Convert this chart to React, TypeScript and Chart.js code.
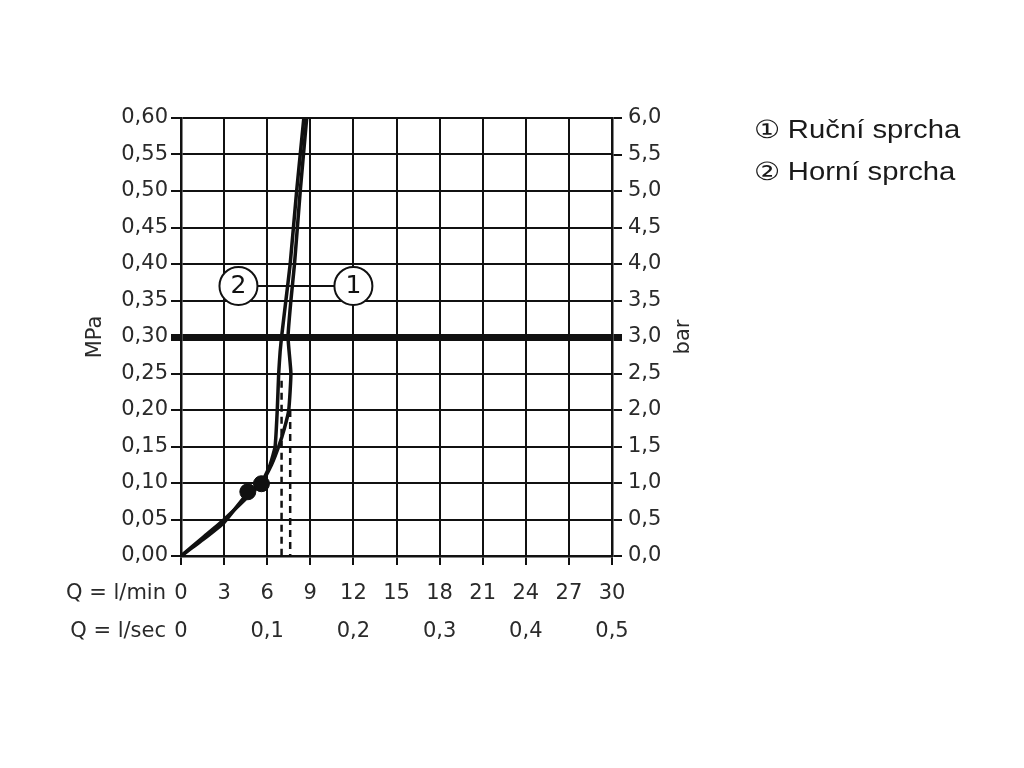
import React, { useEffect, useRef } from "react";
import { Chart, registerables } from "chart.js";

Chart.register(...registerables);

// Flow (l/min) tick values and the l/sec row labels
const flowTicks = [0, 3, 6, 9, 12, 15, 18, 21, 24, 27, 30];
const flowSecLabels = ["0", "", "0,1", "", "0,2", "", "0,3", "", "0,4", "", "0,5"];
// Pressure ticks
const mpaTicks = [0, 0.05, 0.1, 0.15, 0.2, 0.25, 0.3, 0.35, 0.4, 0.45, 0.5, 0.55, 0.6];
const barTicks = [0, 0.5, 1, 1.5, 2, 2.5, 3, 3.5, 4, 4.5, 5, 5.5, 6];
const referencePressure = 0.3;

// Curve 1 – Ruční sprcha (l/min vs MPa)
const curve1Flow = [0, 1.5, 3, 4.6, 5.6, 6.3, 6.8, 7.2, 7.5, 7.65, 7.45, 7.65, 7.9, 8.3, 8.75];
const curve1Pressure = [0, 0.025, 0.05, 0.08, 0.1, 0.125, 0.15, 0.175, 0.2, 0.25, 0.3, 0.35, 0.4, 0.5, 0.6];
// Curve 2 – Horní sprcha
const curve2Flow = [0, 1.5, 3, 4.6, 5.6, 6.2, 6.55, 6.7, 6.8, 6.9, 7.0, 7.3, 7.6, 8.05, 8.55];
const curve2Pressure = [0, 0.022, 0.046, 0.085, 0.1, 0.125, 0.15, 0.2, 0.25, 0.28, 0.3, 0.35, 0.4, 0.5, 0.6];

// Dashed drop lines at operating points
const dropFlow = [7.0, 7.6];
const dropTop = [0.24, 0.2];

// Filled dots
const dotFlow = [4.65, 5.6];
const dotPressure = [0.088, 0.099];

// Numbered callouts
const calloutFlow = [4.0, 12.0];
const calloutPressure = [0.37, 0.37];
const calloutLabels = ["2", "1"];

const legendItems = ["\u2460 Ručn\u00ed sprcha", "\u2461 Horn\u00ed sprcha"];

const INK = "#111";
const TEXT = "#2a2a2a";
const AXIS_FONT = "'DejaVu Sans', sans-serif";
const AXIS_SIZE = 21;

const fmt = (v: number, d: number) => v.toFixed(d).replace(".", ",");
const isRef = (v: number, ref: number) => Math.abs(v - ref) < 1e-6;

const overlayPlugin = {
  id: "overlayText",
  afterDatasetsDraw(chart: any) {
    const ctx = chart.ctx;
    const ys = chart.scales.y;
    const xs = chart.scales.x;
    ctx.save();
    ctx.fillStyle = INK;
    ctx.font = `25px ${AXIS_FONT}`;
    ctx.textAlign = "center";
    ctx.textBaseline = "middle";
    calloutLabels.forEach((lab, i) => {
      ctx.fillText(lab, xs.getPixelForValue(calloutFlow[i]), ys.getPixelForValue(calloutPressure[i]) + 1);
    });
    ctx.restore();
  },
  afterDraw(chart: any) {
    const ctx = chart.ctx;
    const area = chart.chartArea;
    const ys = chart.scales.y;
    ctx.save();
    ctx.fillStyle = TEXT;
    ctx.font = `${AXIS_SIZE}px ${AXIS_FONT}`;
    ctx.textAlign = "right";
    ctx.textBaseline = "middle";
    ctx.fillText("Q = l/min", 166, area.bottom + 38);
    ctx.fillText("Q = l/sec", 166, area.bottom + 76);
    const midY = ys.getPixelForValue(referencePressure);
    ctx.textAlign = "center";
    ctx.save();
    ctx.translate(96, midY);
    ctx.rotate(-Math.PI / 2);
    ctx.fillText("MPa", 0, 0);
    ctx.restore();
    ctx.save();
    ctx.translate(684, midY);
    ctx.rotate(-Math.PI / 2);
    ctx.fillText("bar", 0, 0);
    ctx.restore();
    ctx.restore();
  },
};

export default function App() {
  const ref = useRef<HTMLCanvasElement | null>(null);

  useEffect(() => {
    if (!ref.current) return;
    const pts = (xs: number[], ys: number[]) => xs.map((x, i) => ({ x, y: ys[i] }));
    const chart = new Chart(ref.current, {
      type: "line",
      data: {
        datasets: [
          {
            label: "callouts",
            data: pts(calloutFlow, calloutPressure),
            showLine: false,
            pointRadius: 19,
            pointHoverRadius: 19,
            pointBackgroundColor: "#fff",
            pointBorderColor: INK,
            pointBorderWidth: 2,
            order: 0,
          },
          {
            label: "dots",
            data: pts(dotFlow, dotPressure),
            showLine: false,
            pointRadius: 8,
            pointBackgroundColor: INK,
            pointBorderColor: INK,
            pointBorderWidth: 1,
            order: 1,
          },
          {
            label: "Ruční sprcha",
            data: pts(curve1Flow, curve1Pressure),
            borderColor: INK,
            borderWidth: 3.5,
            pointRadius: 0,
            tension: 0.15,
            fill: false,
            order: 2,
          },
          {
            label: "Horní sprcha",
            data: pts(curve2Flow, curve2Pressure),
            borderColor: INK,
            borderWidth: 3.5,
            pointRadius: 0,
            tension: 0.15,
            fill: false,
            order: 2,
          },
          ...dropFlow.map((f, i) => ({
            label: "drop" + i,
            data: [
              { x: f, y: dropTop[i] },
              { x: f, y: 0 },
            ],
            borderColor: INK,
            borderWidth: 2.5,
            borderDash: [7, 5],
            pointRadius: 0,
            order: 3,
          })),
          {
            label: "connector",
            data: pts(calloutFlow, calloutPressure),
            borderColor: INK,
            borderWidth: 2,
            pointRadius: 0,
            order: 4,
          },
        ],
      },
      options: {
        animation: false,
        responsive: false,
        devicePixelRatio: 1,
        layout: { padding: { left: 0, right: 332, top: 118, bottom: 112 } },
        plugins: { legend: { display: false }, tooltip: { enabled: false } },
        scales: {
          x: {
            type: "linear",
            position: "bottom",
            min: 0,
            max: 30,
            afterBuildTicks: (s: any) => {
              s.ticks = flowTicks.map((v) => ({ value: v }));
            },
            afterFit: (s: any) => {
              s.height = 100;
            },
            ticks: {
              autoSkip: false,
              maxRotation: 0,
              color: TEXT,
              padding: 10,
              font: { family: AXIS_FONT, size: AXIS_SIZE, lineHeight: 1.8 },
              callback: (v: any) => {
                const i = flowTicks.indexOf(Number(v));
                return [String(v), flowSecLabels[i] ?? ""];
              },
            },
            grid: { color: INK, lineWidth: 2, tickLength: 9 },
            border: { color: INK, width: 2.5 },
          },
          y: {
            type: "linear",
            position: "left",
            min: 0,
            max: 0.6,
            afterBuildTicks: (s: any) => {
              s.ticks = mpaTicks.map((v) => ({ value: v }));
            },
            afterFit: (s: any) => {
              s.width = 181;
            },
            ticks: {
              color: TEXT,
              padding: 3,
              font: { family: AXIS_FONT, size: AXIS_SIZE },
              callback: (v: any) => fmt(Number(v), 2),
            },
            grid: {
              color: INK,
              lineWidth: (c: any) => (c.tick && isRef(c.tick.value, referencePressure) ? 7 : 2),
              tickLength: 10,
            },
            border: { color: INK, width: 2.5 },
          },
          y2: {
            type: "linear",
            position: "right",
            min: 0,
            max: 6,
            afterBuildTicks: (s: any) => {
              s.ticks = barTicks.map((v) => ({ value: v }));
            },
            afterFit: (s: any) => {
              s.width = 80;
            },
            ticks: {
              color: TEXT,
              padding: 6,
              font: { family: AXIS_FONT, size: AXIS_SIZE },
              callback: (v: any) => fmt(Number(v), 1),
            },
            grid: {
              drawOnChartArea: false,
              color: INK,
              lineWidth: (c: any) => (c.tick && isRef(c.tick.value, referencePressure * 10) ? 7 : 2),
              tickLength: 10,
            },
            border: { color: INK, width: 2.5 },
          },
        },
      },
      plugins: [overlayPlugin],
    });
    return () => chart.destroy();
  }, []);

  return (
    <div style={{ position: "absolute", left: 0, top: 0, width: 1024, height: 768, background: "#fff" }}>
      <canvas ref={ref} width={1024} height={768} style={{ position: "absolute", left: 0, top: 0 }} />
      <div
        style={{
          position: "absolute",
          left: 754,
          top: 108,
          fontFamily: "'Liberation Sans', Arial, sans-serif",
          fontSize: 25,
          lineHeight: "42px",
          color: "#1a1a1a",
          transform: "scaleX(1.17)",
          transformOrigin: "left top",
          whiteSpace: "nowrap",
        }}
      >
        {legendItems.map((t) => (
          <div key={t}>{t}</div>
        ))}
      </div>
    </div>
  );
}
